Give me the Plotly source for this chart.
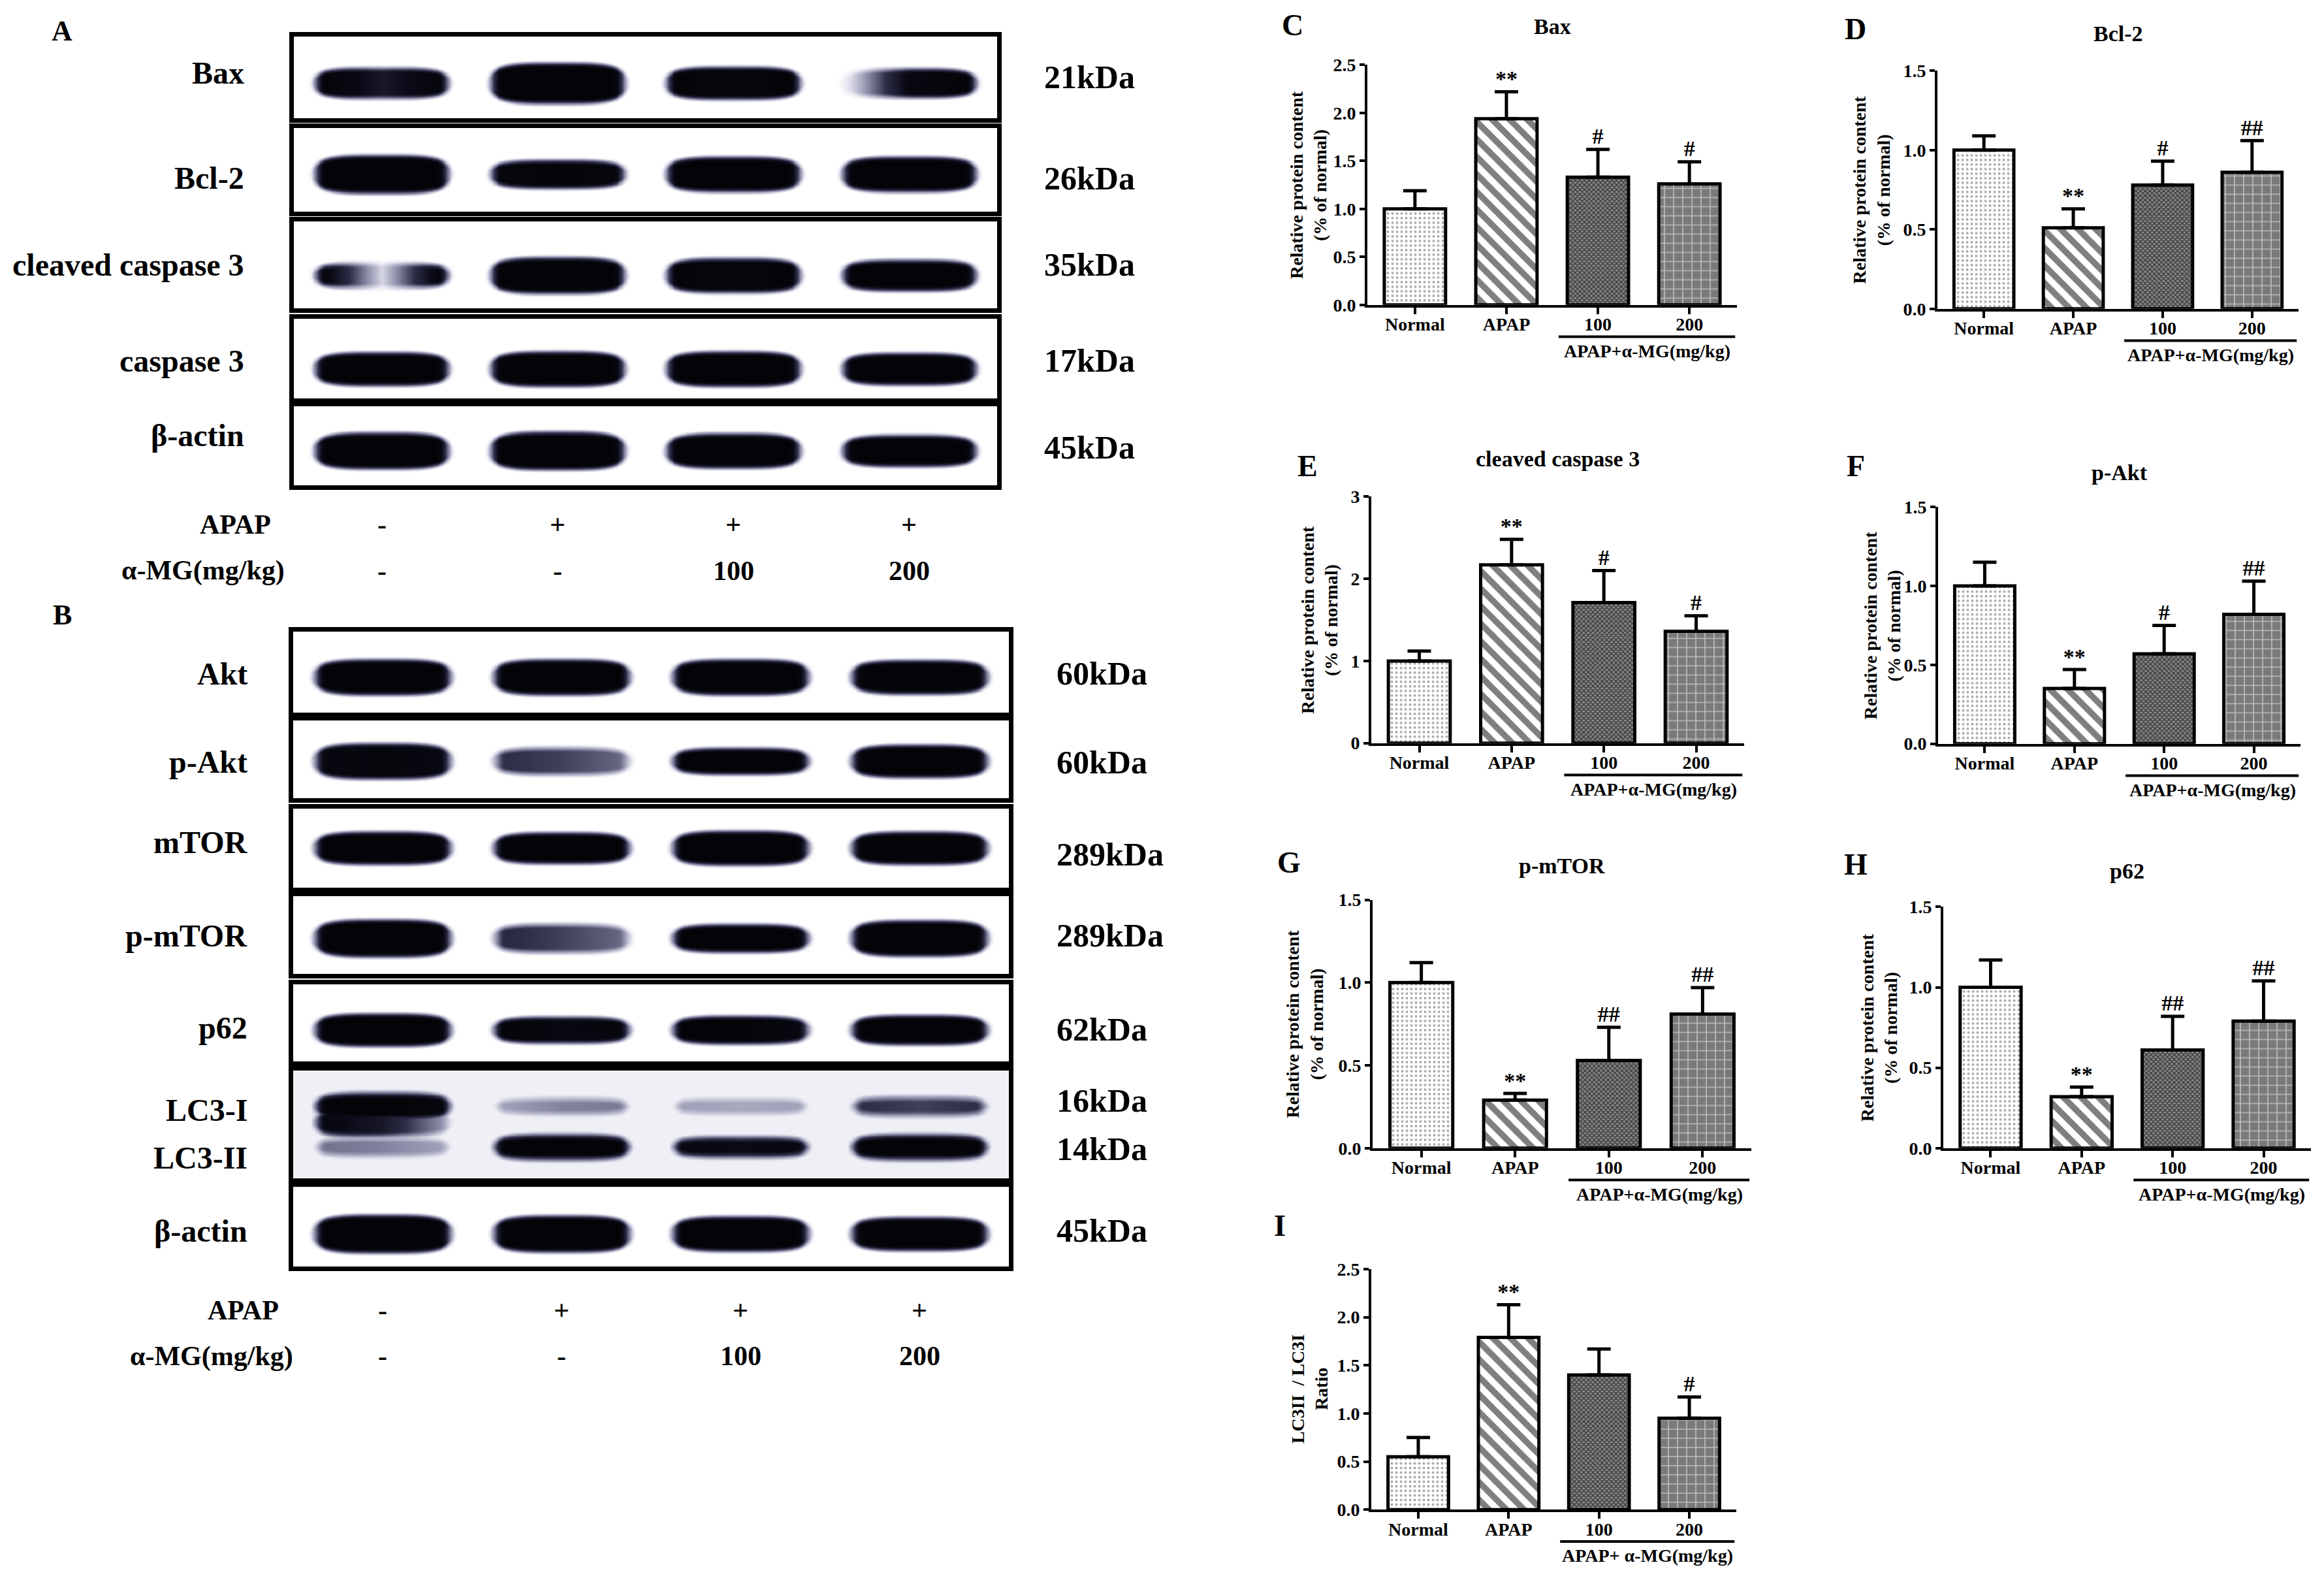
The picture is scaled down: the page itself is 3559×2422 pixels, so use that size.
import numpy as np
import plotly.graph_objects as go

W, H = 3559, 2422
FONT = "Liberation Serif"

# ---------------- densitometry (panels C-I) ----------------
groups = ["Normal", "APAP", "100", "200"]

bax_mean = [1.00, 1.94, 1.33, 1.26]
bax_sem = [0.19, 0.28, 0.29, 0.23]
bax_sig = ["", "**", "#", "#"]

bcl2_mean = [1.00, 0.51, 0.78, 0.86]
bcl2_sem = [0.09, 0.12, 0.15, 0.20]
bcl2_sig = ["", "**", "#", "##"]

ccasp3_mean = [1.00, 2.17, 1.71, 1.36]
ccasp3_sem = [0.12, 0.31, 0.39, 0.19]
ccasp3_sig = ["", "**", "#", "#"]

pakt_mean = [1.00, 0.35, 0.57, 0.82]
pakt_sem = [0.15, 0.12, 0.18, 0.21]
pakt_sig = ["", "**", "#", "##"]

pmtor_mean = [1.00, 0.29, 0.53, 0.81]
pmtor_sem = [0.12, 0.04, 0.20, 0.16]
pmtor_sig = ["", "**", "##", "##"]

p62_mean = [1.00, 0.32, 0.61, 0.79]
p62_sem = [0.17, 0.06, 0.21, 0.25]
p62_sig = ["", "**", "##", "##"]

lc3_mean = [0.55, 1.79, 1.40, 0.95]
lc3_sem = [0.20, 0.34, 0.27, 0.22]
lc3_sig = ["", "**", "", "#"]

# ---------------- western blot films (panels A, B) ----------------
lane_pos = [0.5, 1.5, 2.5, 3.5]
apap_row = ["-", "+", "+", "+"]
amg_row = ["-", "-", "100", "200"]

# band darkness per lane (left / middle / right part of the band)
bax_band = [[1.0, 0.75, 0.95], [1.0, 1.0, 1.0], [1.0, 0.95, 1.0], [0.15, 0.9, 1.0]]
bcl2_band = [[1.0, 1.0, 1.0], [0.95, 1.0, 0.95], [1.0, 1.0, 1.0], [1.0, 1.0, 1.0]]
ccasp3_band = [[0.95, 0.15, 0.95], [1.0, 1.0, 1.0], [1.0, 0.95, 1.0], [1.0, 1.0, 1.0]]
casp3_band = [[1.0, 1.0, 1.0], [1.0, 1.0, 1.0], [1.0, 1.0, 1.0], [1.0, 1.0, 1.0]]
actin_a_band = [[1.0, 1.0, 1.0], [1.0, 1.0, 1.0], [1.0, 1.0, 1.0], [1.0, 1.0, 1.0]]
akt_band = [[1.0, 1.0, 1.0], [1.0, 1.0, 1.0], [1.0, 1.0, 1.0], [1.0, 1.0, 1.0]]
pakt_band = [[0.92, 0.95, 0.9], [0.6, 0.55, 0.45], [1.0, 1.0, 1.0], [1.0, 1.0, 1.0]]
mtor_band = [[1.0, 1.0, 1.0], [1.0, 1.0, 1.0], [1.0, 1.0, 1.0], [1.0, 1.0, 1.0]]
pmtor_band = [[1.0, 1.0, 1.0], [0.62, 0.55, 0.45], [1.0, 1.0, 1.0], [1.0, 1.0, 1.0]]
p62_band = [[1.0, 1.0, 1.0], [1.0, 0.9, 0.95], [1.0, 1.0, 0.9], [1.0, 1.0, 1.0]]
lc3i_band = [[1.0, 1.0, 0.95], [0.3, 0.38, 0.4], [0.3, 0.28, 0.3], [0.6, 0.55, 0.6]]
lc3_smear = [[0.9, 0.75, 0.35], [0.0, 0.0, 0.0], [0.0, 0.0, 0.0], [0.0, 0.0, 0.0]]
lc3ii_band = [[0.42, 0.38, 0.3], [1.0, 1.0, 1.0], [0.9, 0.85, 0.9], [1.0, 1.0, 1.0]]
actin_b_band = [[1.0, 1.0, 1.0], [1.0, 1.0, 1.0], [1.0, 1.0, 1.0], [1.0, 1.0, 1.0]]

# the page body keeps its 8px margin, so the figure is drawn 8px in
OFF = 8
FW, FH = W - 2 * OFF, H - 2 * OFF


def px(x):
    return (x - OFF) / FW


def py(y):
    y = y - 11 + 0.0084 * (y - 45)
    return 1 - (y - OFF) / FH


def bold(size):
    return dict(family=FONT, size=size, color="black", weight="bold")


def film(bands, haze=0.0, reach=0.41, soft=0.09):
    xs = np.linspace(0, 4, 241)
    ys = np.linspace(-0.5, 0.5, 61)
    z = np.full((len(ys), len(xs)), haze)
    for yc, halves, dark in bands:
        for c, half, d in zip(lane_pos, halves, dark):
            u = (xs - c) / reach
            tone = np.interp(u, [-1, -0.8, 0, 0.8, 1], [0, d[0], d[1], d[2], 0])
            hx = half * np.clip(1 - u ** 4, 0, 1) ** 0.5
            prof = np.clip((hx[None, :] + soft / 2 - np.abs(ys[:, None] - yc)) / soft, 0, 1)
            z = np.maximum(z, prof * tone[None, :])
    return xs, ys, z


film_scale = [[0, "#ffffff"], [0.1, "#e8e8f2"], [0.35, "#8e8eaa"],
              [0.6, "#2c2c46"], [0.85, "#0a0a16"], [1, "#040408"]]

fig = go.Figure()
layout = {}
annots = []
shapes = []
n_ax = 0


def new_axes():
    global n_ax
    n_ax += 1
    s = "" if n_ax == 1 else str(n_ax)
    return n_ax, "xaxis" + s, "yaxis" + s, "x" + s, "y" + s


# (labels, kDa labels, box top px, box bottom px, bands (centre, half heights, darkness), haze)
films_a = [
    ([("Bax", 108)], [("21kDa", 115)], 52, 178,
     [(-0.07, [0.18, 0.24, 0.19, 0.17], bax_band)], 0.0),
    ([("Bcl-2", 270)], [("26kDa", 270)], 193, 322,
     [(-0.05, [0.22, 0.16, 0.2, 0.2], bcl2_band)], 0.0),
    ([("cleaved caspase 3", 403)], [("35kDa", 403)], 337, 470,
     [(-0.12, [0.14, 0.2, 0.19, 0.17], ccasp3_band)], 0.0),
    ([("caspase 3", 551)], [("17kDa", 551)], 486, 609,
     [(-0.13, [0.2, 0.21, 0.21, 0.19], casp3_band)], 0.0),
    ([("β-actin", 666)], [("45kDa", 684)], 621, 743,
     [(-0.06, [0.22, 0.23, 0.21, 0.19], actin_a_band)], 0.0),
]
films_b = [
    ([("Akt", 1032)], [("60kDa", 1032)], 968, 1092,
     [(-0.06, [0.21, 0.21, 0.21, 0.2], akt_band)], 0.0),
    ([("p-Akt", 1168)], [("60kDa", 1168)], 1104, 1224,
     [(-0.02, [0.22, 0.17, 0.16, 0.2], pakt_band)], 0.0),
    ([("mTOR", 1292)], [("289kDa", 1310)], 1240, 1361,
     [(0.0, [0.2, 0.19, 0.21, 0.2], mtor_band)], 0.0),
    ([("p-mTOR", 1435)], [("289kDa", 1435)], 1374, 1494,
     [(-0.04, [0.23, 0.18, 0.17, 0.22], pmtor_band)], 0.0),
    ([("p62", 1577)], [("62kDa", 1579)], 1510, 1629,
     [(-0.09, [0.2, 0.16, 0.17, 0.18], p62_band)], 0.0),
    ([("LC3-I", 1703), ("LC3-II", 1777)], [("16kDa", 1689), ("14kDa", 1763)], 1643, 1808,
     [(0.17, [0.12, 0.08, 0.08, 0.09], lc3i_band),
      (0.02, [0.13, 0.0, 0.0, 0.0], lc3_smear),
      (-0.21, [0.09, 0.11, 0.09, 0.11], lc3ii_band)], 0.07),
    ([("β-actin", 1889)], [("45kDa", 1889)], 1821, 1944,
     [(-0.09, [0.23, 0.22, 0.21, 0.2], actin_b_band)], 0.0),
]


def draw_films(films, bx0, bx1, lab_x, kda_x, letter, letter_y, rows_y, row_lab_x):
    last_x = None
    for labels, kdas, top, bot, bands, haze in films:
        n, xk, yk, xr, yr = new_axes()
        xs, ys, z = film(bands, haze)
        fig.add_trace(go.Heatmap(x=xs, y=ys, z=z, zmin=0, zmax=1, zsmooth="best",
                                 colorscale=film_scale, showscale=False,
                                 hoverinfo="skip", xaxis=xr, yaxis=yr))
        common = dict(showline=True, mirror=True, linewidth=7, linecolor="black",
                      showticklabels=False, ticks="", showgrid=False, zeroline=False,
                      fixedrange=True)
        layout[xk] = dict(domain=[px(bx0), px(bx1)], range=[0, 4], anchor=yr, **common)
        layout[yk] = dict(domain=[py(bot), py(top)], range=[-0.5, 0.5], anchor=xr, **common)
        for t, y in labels:
            annots.append(dict(x=px(lab_x), y=py(y), xref="paper", yref="paper", text=t,
                               showarrow=False, xanchor="right", yanchor="middle", font=bold(48)))
        for t, y in kdas:
            annots.append(dict(x=px(kda_x), y=py(y), xref="paper", yref="paper", text=t,
                               showarrow=False, xanchor="left", yanchor="middle", font=bold(50)))
        last_x = xr
    annots.append(dict(x=px(95), y=py(letter_y), xref="paper", yref="paper", text=letter,
                       showarrow=False, xanchor="center", yanchor="middle", font=bold(44)))
    for (name, vals), y, rx in zip([("APAP", apap_row), ("α-MG(mg/kg)", amg_row)], rows_y, row_lab_x):
        annots.append(dict(x=px(rx), y=py(y), xref="paper", yref="paper", text=name,
                           showarrow=False, xanchor="right", yanchor="middle", font=bold(42)))
        for lp, v in zip(lane_pos, vals):
            annots.append(dict(x=lp, y=py(y), xref=last_x, yref="paper", text=v,
                               showarrow=False, xanchor="center", yanchor="middle", font=bold(42)))


draw_films(films_a, 450, 1527, 376, 1597, "A", 44, [803, 874], [417, 438])
draw_films(films_b, 449, 1545, 381, 1616, "B", 942, [2011, 2082], [429, 451])

# ---------------- bar panels ----------------
idx = [0, 1, 2, 3]
pat = dict(shape=[".", "\\", "x", "+"],
           fgcolor=["#555555", "black", "black", "white"],
           bgcolor=["white", "white", "#8a8a8a", "#7a7a7a"],
           size=[7, 19, 5, 14],
           solidity=[0.25, 0.5, 0.6, 0.22])

ytitle_prot = "Relative protein content<br>(% of normal)"

panels = [
    ("C", "Bax", bax_mean, bax_sem, bax_sig, 2.5, 0.5, ".1f", (2094, 2660, 96, 465),
     (1979, 35), 37, ytitle_prot, 2003, "APAP+α-MG(mg/kg)"),
    ("D", "Bcl-2", bcl2_mean, bcl2_sem, bcl2_sig, 1.5, 0.5, ".1f", (2967, 3520, 105, 471),
     (2841, 41), 48, ytitle_prot, 2866, "APAP+α-MG(mg/kg)"),
    ("E", "cleaved caspase 3", ccasp3_mean, ccasp3_sem, ccasp3_sig, 3, 1, "d", (2100, 2671, 760, 1139),
     (2002, 713), 702, ytitle_prot, 2020, "APAP+α-MG(mg/kg)"),
    ("F", "p-Akt", pakt_mean, pakt_sem, pakt_sig, 1.5, 0.5, ".1f", (2968, 3523, 776, 1140),
     (2842, 713), 723, ytitle_prot, 2882, "APAP+α-MG(mg/kg)"),
    ("G", "p-mTOR", pmtor_mean, pmtor_sem, pmtor_sig, 1.5, 0.5, ".1f", (2102, 2682, 1380, 1762),
     (1974, 1323), 1328, ytitle_prot, 1998, "APAP+α-MG(mg/kg)"),
    ("H", "p62", p62_mean, p62_sem, p62_sig, 1.5, 0.5, ".1f", (2976, 3539, 1391, 1762),
     (2842, 1326), 1336, ytitle_prot, 2877, "APAP+α-MG(mg/kg)"),
    ("I", None, lc3_mean, lc3_sem, lc3_sig, 2.5, 0.5, ".1f", (2100, 2659, 1948, 2318),
     (1960, 1881), None, "LC3II  / LC3I<br>Ratio", 2005, "APAP+ α-MG(mg/kg)"),
]

for letter, title, mean, sem, sig, ymax, dtick, fmt, box, lpos, ty, ytitle, ytx, grp in panels:
    n, xk, yk, xr, yr = new_axes()
    x0, x1, y0, y1 = box
    fig.add_trace(go.Bar(
        x=idx, y=mean, width=0.67, xaxis=xr, yaxis=yr,
        marker=dict(color="white", line=dict(color="black", width=5), pattern=pat),
        error_y=dict(type="data", symmetric=False, array=sem, arrayminus=[0] * 4,
                     color="black", thickness=5, width=18),
    ))
    tops = [m + s for m, s in zip(mean, sem)]
    fig.add_trace(go.Scatter(x=idx, y=tops, mode="text", text=sig, textposition="top center",
                             textfont=bold(34), xaxis=xr, yaxis=yr, hoverinfo="skip"))
    ticks = list(np.arange(0, ymax + 1e-9, dtick))
    layout[xk] = dict(domain=[px(x0), px(x1)], range=[-0.52, 3.52], anchor=yr,
                      showline=True, linewidth=4, linecolor="black", ticks="outside",
                      ticklen=10, tickwidth=4, tickcolor="black", tickvals=idx, ticktext=groups,
                      ticklabelstandoff=-8,
                      tickfont=bold(28), showgrid=False, zeroline=False, fixedrange=True)
    layout[yk] = dict(domain=[py(y1), py(y0)], range=[0, ymax], anchor=xr,
                      showline=True, linewidth=4, linecolor="black", ticks="outside",
                      ticklen=8, tickwidth=4, tickcolor="black", tickvals=ticks,
                      tickformat=fmt, tickfont=bold(28), showgrid=False, zeroline=False,
                      fixedrange=True)
    annots.append(dict(x=px(lpos[0]), y=py(lpos[1]), xref="paper", yref="paper", text=letter,
                       showarrow=False, xanchor="center", yanchor="middle", font=bold(46)))
    if title:
        annots.append(dict(x=px((x0 + x1) / 2), y=py(ty), xref="paper", yref="paper", text=title,
                           showarrow=False, xanchor="center", yanchor="middle", font=bold(34)))
    annots.append(dict(x=px(ytx), y=py((y0 + y1) / 2), xref="paper", yref="paper", text=ytitle,
                       textangle=-90, showarrow=False, xanchor="center", yanchor="middle",
                       font=bold(28)))
    shapes.append(dict(type="line", xref=xr, yref="paper", x0=1.57, x1=3.5,
                       y0=py(y1 + 49), y1=py(y1 + 49), line=dict(color="black", width=4)))
    annots.append(dict(x=2.54, y=py(y1 + 71), xref=xr, yref="paper", text=grp,
                       showarrow=False, xanchor="center", yanchor="middle", font=bold(28)))

fig.update_layout(
    width=FW, height=FH, margin=dict(l=0, r=0, t=0, b=0),
    paper_bgcolor="white", plot_bgcolor="white", showlegend=False,
    annotations=annots, shapes=shapes, **layout,
)

fig.write_html("out.html")
